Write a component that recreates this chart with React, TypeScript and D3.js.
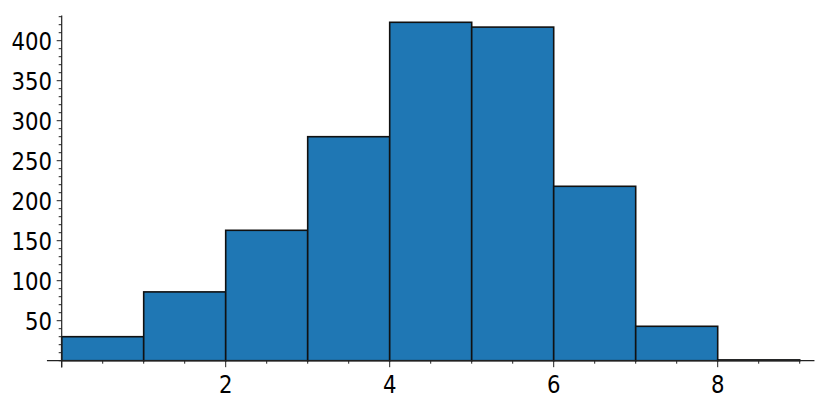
import React from "react";
import * as d3 from "d3";

const binStarts = [0, 1, 2, 3, 4, 5, 6, 7, 8];
const counts = [30, 86, 163, 280, 423, 417, 218, 43, 1];
const xTickLabels = [2, 4, 6, 8];
const yTickLabels = [50, 100, 150, 200, 250, 300, 350, 400];

const W = 831;
const H = 408;

export default function App() {
  const x = d3.scaleLinear().domain([0, 9]).range([61.7, 799.7]);
  const y = d3.scaleLinear().domain([0, 400]).range([360.7, 40.7]);
  const xMinor = d3.range(0, 9.001, 0.5);
  const yMinor = d3.range(0, 431, 10);
  const font = "'DejaVu Sans', sans-serif";
  const fs = 25;
  const sx = 0.85;
  const axisColor = "#222";
  return (
    <svg
      width={W}
      height={H}
      style={{ position: "absolute", left: 0, top: 0, background: "#fff" }}
    >
      {binStarts.map((b, i) => (
        <rect
          key={b}
          x={x(b)}
          y={y(counts[i])}
          width={x(b + 1) - x(b)}
          height={y(0) - y(counts[i])}
          fill="#1f77b4"
          stroke="#111"
          strokeWidth={1.6}
        />
      ))}
      {/* x axis */}
      <line x1={x(-0.18)} x2={x(9.18)} y1={y(0)} y2={y(0)} stroke={axisColor} strokeWidth={1.2} />
      {xMinor.map((t) => {
        const major = Math.abs(t % 2) < 1e-9;
        return (
          <line
            key={"xm" + t}
            x1={x(t)}
            x2={x(t)}
            y1={y(0)}
            y2={y(0) + (major ? 6.5 : 3)}
            stroke={axisColor}
            strokeWidth={1}
          />
        );
      })}
      {xTickLabels.map((t) => (
        <text
          key={"xl" + t}
          transform={`translate(${x(t)},392.5) scale(${sx},1)`}
          textAnchor="middle"
          fontFamily={font}
          fontSize={fs}
          fill="#000"
        >
          {t}
        </text>
      ))}
      {/* y axis */}
      <line x1={x(0)} x2={x(0)} y1={y(431.5)} y2={y(-8.5)} stroke={axisColor} strokeWidth={1.2} />
      {yMinor.map((t) => {
        const major = t % 50 === 0 && t > 0;
        return (
          <line
            key={"ym" + t}
            x1={x(0) - (major ? 5 : 3)}
            x2={x(0)}
            y1={y(t)}
            y2={y(t)}
            stroke={axisColor}
            strokeWidth={1}
          />
        );
      })}
      {yTickLabels.map((t) => (
        <text
          key={"yl" + t}
          transform={`translate(52,${y(t)}) scale(${sx},1)`}
          dy="0.36em"
          textAnchor="end"
          fontFamily={font}
          fontSize={fs}
          fill="#000"
        >
          {t}
        </text>
      ))}
    </svg>
  );
}
